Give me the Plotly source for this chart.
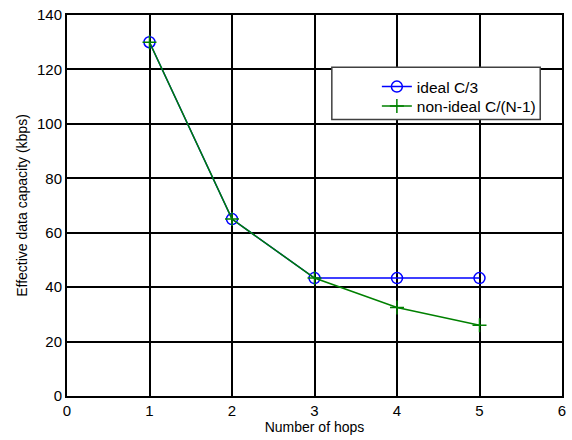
import plotly.graph_objects as go

hops = [1, 2, 3, 4, 5]
ideal = [130, 65, 43.33, 43.33, 43.33]
nonideal = [130, 65, 43.33, 32.5, 26]
xticks = [0, 1, 2, 3, 4, 5, 6]
yticks = [0, 20, 40, 60, 80, 100, 120, 140]

fig = go.Figure()
fig.add_trace(go.Scatter(x=hops, y=ideal, mode="lines+markers", name="ideal C/3",
                         line=dict(color="#0000ff", width=1.5), legend="legend",
                         marker=dict(symbol="circle-open", size=11, color="#0000ff", line=dict(width=1.5))))
fig.add_trace(go.Scatter(x=hops, y=nonideal, mode="lines+markers", name="non-ideal C/(N-1)",
                         line=dict(color="#008000", width=1.5), legend="legend2",
                         marker=dict(symbol="cross-thin-open", size=10, color="#008000", line=dict(width=1.5, color="#008000"))))

# legend box
fig.add_shape(type="rect", xref="paper", yref="paper", x0=0.535, x1=0.956, y0=0.726, y1=0.863,
              fillcolor="white", line=dict(color="#404040", width=1.5), layer="above")

leg = dict(xanchor="left", yanchor="middle", bgcolor="rgba(0,0,0,0)", borderwidth=0,
           font=dict(size=15.5))
fig.update_layout(
    width=572, height=440,
    margin=dict(l=67, r=6, t=9, b=44),
    paper_bgcolor="white", plot_bgcolor="white",
    font=dict(family="Liberation Sans, Arial", size=14, color="black"),
    showlegend=True,
    legend=dict(x=0.626, y=0.811, **leg),
    legend2=dict(x=0.626, y=0.760, **leg),
)
fig.update_xaxes(range=[0, 6], tickvals=xticks, showgrid=True, gridcolor="black", gridwidth=1.5,
                 showline=True, linecolor="black", linewidth=2, mirror=True, zeroline=False,
                 ticks="", title=dict(text="Number of hops", font=dict(size=14), standoff=2),
                 tickfont=dict(size=15))
fig.update_yaxes(range=[0, 140], tickvals=yticks, showgrid=True, gridcolor="black", gridwidth=1.5,
                 showline=True, linecolor="black", linewidth=2, mirror=True, zeroline=False,
                 ticks="", title=dict(text="Effective data capacity (kbps)", font=dict(size=14), standoff=6),
                 tickfont=dict(size=15))

fig.write_html("out.html")
